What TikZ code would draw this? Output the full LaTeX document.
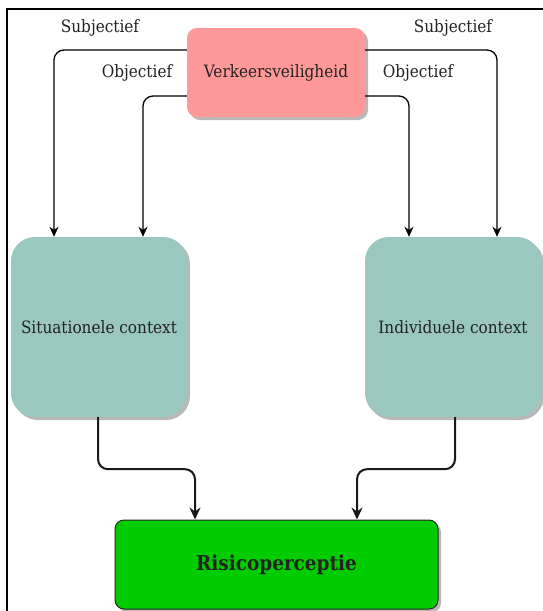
\documentclass[tikz,border=0pt]{standalone}
\usepackage{fontspec}
\setmainfont{DejaVu Serif Condensed}
\usetikzlibrary{arrows.meta,shadows}
\definecolor{pinkfill}{HTML}{FF9999}
\definecolor{tealfill}{HTML}{9AC7BF}
\definecolor{greenfill}{HTML}{00CC00}
\definecolor{txt}{HTML}{222222}
\begin{document}
\begin{tikzpicture}[x=1pt,y=-1pt,
  every node/.style={text=txt,font=\fontsize{17}{20}\selectfont},
  boxshadow/.style={general shadow={shadow xshift=3pt,shadow yshift=-3pt,fill=black!28}},
  topbox/.style={boxshadow,fill=pinkfill,rounded corners=10pt,minimum width=178pt,minimum height=89pt,inner sep=0pt},
  ctxbox/.style={boxshadow,fill=tealfill,rounded corners=24pt,minimum width=176pt,minimum height=180pt,inner sep=0pt},
  resbox/.style={boxshadow,fill=greenfill,draw=black!85,line width=1pt,rounded corners=9pt,minimum width=323pt,minimum height=89pt,inner sep=0pt},
  thinarr/.style={draw=black,line width=1.3pt,rounded corners=10pt,-{Stealth[length=10pt,width=9pt,inset=3pt]}},
  thickarr/.style={draw=black!90,line width=2pt,rounded corners=10pt,-{Stealth[length=12pt,width=11pt,inset=4pt]}},
  lbl/.style={inner sep=0pt}]
\useasboundingbox (0,0) rectangle (543,611);
\fill[white] (0,0) rectangle (543,611);
% frame (top and left edges visible)
\draw[line width=1.5pt] (7,611) -- (7,9) -- (543,9);
% nodes
\node[topbox] (vv) at (276,72.5) {Verkeersveiligheid};
\node[ctxbox] (sit) at (99,327) {Situationele context};
\node[ctxbox] (ind) at (453,327) {Individuele context};
\node[resbox] (risk) at (276.5,564.5) {\fontsize{20.5}{24}\selectfont\textbf{Risicoperceptie}};
% labels
\node[lbl] (ls) at (100,28) {Subjectief};
\node[lbl] (rs) at (453,28) {Subjectief};
\node[lbl] (lo) at (137,73) {Objectief};
\node[lbl] (ro) at (418,73) {Objectief};
% connectors
\draw[thinarr] ([yshift=22.5pt]vv.west) -| ([xshift=-45pt]sit.north);
\draw[thinarr] ([yshift=-23.5pt]vv.west) -| ([xshift=44pt]sit.north);
\draw[thinarr] ([yshift=-23.5pt]vv.east) -| ([xshift=-44pt]ind.north);
\draw[thinarr] ([yshift=22.5pt]vv.east) -| ([xshift=44pt]ind.north);
\draw[thickarr] ([xshift=-1pt]sit.south) -- ++(0,52) -| ([xshift=-81.5pt]risk.north);
\draw[thickarr] ([xshift=2pt]ind.south) -- ++(0,52) -| ([xshift=80.5pt]risk.north);
\end{tikzpicture}
\end{document}
